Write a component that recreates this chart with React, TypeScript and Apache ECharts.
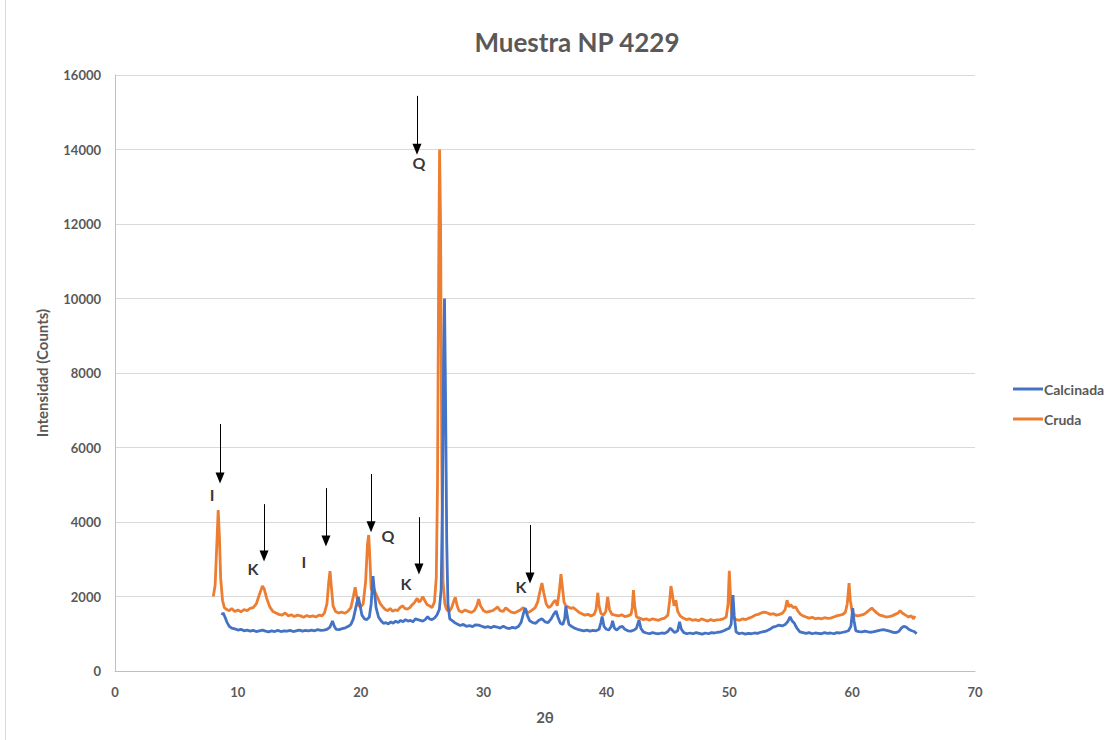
import React, { useEffect, useRef } from "react";
import * as echarts from "echarts";

const title = "Muestra NP 4229";
const xTicks = [0, 10, 20, 30, 40, 50, 60, 70];
const yTicks = [0, 2000, 4000, 6000, 8000, 10000, 12000, 14000, 16000];

// Calcinada: [2θ, counts]
const calcinada: [number, number][] = [
  [8.7, 1500], [8.8, 1560], [8.95, 1450], [9.1, 1320], [9.3, 1200], [9.5, 1150], [9.75, 1130], [10.0, 1100],
  [10.25, 1120], [10.5, 1080], [10.75, 1100], [11.0, 1070], [11.25, 1090], [11.5, 1060], [11.75, 1080], [12.0, 1100],
  [12.25, 1070], [12.5, 1050], [12.75, 1080], [13.0, 1060], [13.25, 1090], [13.5, 1060], [13.75, 1080], [14.0, 1070],
  [14.25, 1090], [14.5, 1060], [14.75, 1080], [15.0, 1100], [15.25, 1070], [15.5, 1090], [15.75, 1080], [16.0, 1100],
  [16.25, 1080], [16.5, 1110], [16.75, 1090], [17.0, 1100], [17.25, 1120], [17.5, 1180], [17.7, 1340], [17.85, 1200],
  [18.0, 1120], [18.25, 1110], [18.5, 1140], [18.75, 1160], [19.0, 1200], [19.2, 1250], [19.4, 1400], [19.6, 1700],
  [19.8, 1990], [19.95, 1750], [20.1, 1500], [20.3, 1400], [20.5, 1380], [20.7, 1450], [20.85, 1800], [21.0, 2550],
  [21.1, 2200], [21.25, 1700], [21.45, 1450], [21.65, 1350], [21.85, 1280], [22.05, 1300], [22.25, 1260], [22.45, 1320],
  [22.65, 1280], [22.85, 1340], [23.05, 1300], [23.25, 1360], [23.45, 1320], [23.65, 1380], [23.85, 1340], [24.05, 1360],
  [24.25, 1320], [24.45, 1400], [24.65, 1380], [24.85, 1360], [25.05, 1340], [25.25, 1380], [25.45, 1460], [25.6, 1400],
  [25.8, 1380], [26.0, 1420], [26.2, 1500], [26.4, 1650], [26.55, 2200], [26.65, 4500], [26.75, 8500], [26.82, 10000],
  [26.9, 7500], [27.0, 3500], [27.1, 1800], [27.25, 1400], [27.45, 1350], [27.65, 1300], [27.85, 1260], [28.1, 1220],
  [28.35, 1250], [28.6, 1200], [28.85, 1220], [29.1, 1190], [29.35, 1240], [29.6, 1230], [29.85, 1200], [30.1, 1170],
  [30.35, 1190], [30.6, 1160], [30.85, 1200], [31.1, 1180], [31.35, 1150], [31.6, 1200], [31.85, 1160], [32.1, 1140],
  [32.35, 1170], [32.6, 1150], [32.85, 1200], [33.05, 1300], [33.25, 1550], [33.4, 1690], [33.55, 1500], [33.75, 1350],
  [34.0, 1300], [34.25, 1280], [34.5, 1360], [34.75, 1400], [35.0, 1320], [35.25, 1300], [35.5, 1400], [35.7, 1520],
  [35.9, 1610], [36.05, 1450], [36.25, 1280], [36.45, 1250], [36.6, 1400], [36.7, 1740], [36.8, 1500], [36.95, 1250],
  [37.15, 1200], [37.4, 1150], [37.65, 1120], [37.9, 1100], [38.15, 1080], [38.4, 1100], [38.65, 1070], [38.9, 1090],
  [39.15, 1080], [39.4, 1120], [39.55, 1300], [39.65, 1460], [39.8, 1200], [40.0, 1120], [40.2, 1100], [40.4, 1200],
  [40.5, 1350], [40.65, 1150], [40.85, 1100], [41.1, 1180], [41.3, 1200], [41.5, 1120], [41.75, 1080], [42.0, 1070],
  [42.25, 1100], [42.45, 1150], [42.65, 1370], [42.8, 1150], [43.0, 1050], [43.25, 1020], [43.5, 1000], [43.75, 1030],
  [44.0, 1010], [44.25, 1000], [44.5, 1020], [44.75, 1010], [45.0, 1060], [45.2, 1150], [45.35, 1100], [45.55, 1030],
  [45.8, 1080], [45.95, 1320], [46.1, 1120], [46.3, 1030], [46.55, 1000], [46.8, 1020], [47.05, 1000], [47.3, 1030],
  [47.55, 1010], [47.8, 990], [48.05, 1020], [48.3, 1000], [48.55, 1030], [48.8, 1020], [49.05, 1040], [49.3, 1050],
  [49.55, 1080], [49.8, 1120], [50.0, 1150], [50.15, 1250], [50.3, 2040], [50.4, 1500], [50.55, 1050], [50.8, 1000],
  [51.05, 1020], [51.3, 990], [51.55, 1010], [51.8, 1000], [52.05, 1020], [52.3, 1010], [52.55, 1040], [52.8, 1060],
  [53.05, 1080], [53.3, 1120], [53.55, 1180], [53.8, 1200], [54.05, 1230], [54.3, 1210], [54.55, 1250], [54.75, 1320],
  [54.95, 1450], [55.1, 1350], [55.3, 1280], [55.5, 1150], [55.75, 1050], [56.0, 1030], [56.25, 1010], [56.5, 1030],
  [56.75, 1000], [57.0, 1020], [57.25, 1010], [57.5, 1000], [57.75, 1030], [58.0, 1010], [58.25, 1020], [58.5, 1000],
  [58.75, 1030], [59.0, 1020], [59.25, 1040], [59.5, 1060], [59.7, 1080], [59.9, 1200], [60.05, 1690], [60.15, 1350],
  [60.3, 1080], [60.55, 1060], [60.8, 1050], [61.05, 1070], [61.3, 1050], [61.55, 1040], [61.8, 1060], [62.05, 1080],
  [62.3, 1100], [62.55, 1110], [62.8, 1090], [63.05, 1070], [63.3, 1040], [63.55, 1030], [63.8, 1060], [64.0, 1150],
  [64.2, 1200], [64.4, 1180], [64.6, 1120], [64.85, 1080], [65.05, 1060], [65.25, 1000],
];

// Cruda: [2θ, counts]
const cruda: [number, number][] = [
  [8.0, 2000], [8.15, 2300], [8.3, 3500], [8.4, 4320], [8.5, 3600], [8.6, 2500], [8.75, 1900], [8.9, 1700],
  [9.1, 1650], [9.3, 1620], [9.5, 1680], [9.75, 1600], [10.0, 1640], [10.25, 1590], [10.5, 1650], [10.75, 1620],
  [11.0, 1680], [11.25, 1700], [11.5, 1800], [11.75, 2050], [12.0, 2280], [12.15, 2200], [12.35, 1950], [12.6, 1720],
  [12.85, 1600], [13.1, 1560], [13.35, 1520], [13.6, 1500], [13.85, 1560], [14.1, 1480], [14.35, 1510], [14.6, 1460],
  [14.85, 1500], [15.1, 1480], [15.35, 1440], [15.6, 1490], [15.85, 1460], [16.1, 1480], [16.35, 1450], [16.6, 1500],
  [16.85, 1480], [17.05, 1560], [17.25, 1800], [17.4, 2400], [17.5, 2680], [17.6, 2300], [17.75, 1750], [17.95, 1600],
  [18.2, 1560], [18.45, 1580], [18.7, 1550], [18.95, 1600], [19.2, 1700], [19.4, 2000], [19.55, 2250], [19.7, 1950],
  [19.85, 1750], [20.0, 1720], [20.2, 1800], [20.4, 2400], [20.55, 3400], [20.65, 3650], [20.75, 3000], [20.85, 2200],
  [20.95, 2150], [21.05, 2220], [21.2, 2100], [21.4, 1950], [21.6, 1800], [21.8, 1720], [22.0, 1650], [22.2, 1620],
  [22.4, 1680], [22.6, 1600], [22.8, 1640], [23.0, 1620], [23.2, 1700], [23.4, 1750], [23.6, 1680], [23.8, 1660],
  [24.0, 1700], [24.2, 1780], [24.4, 1850], [24.6, 1950], [24.75, 1850], [24.9, 1900], [25.05, 2000], [25.2, 1900],
  [25.4, 1780], [25.6, 1750], [25.8, 1700], [26.0, 1850], [26.15, 2500], [26.25, 5000], [26.35, 11000], [26.42, 14000],
  [26.5, 12000], [26.6, 5500], [26.7, 2400], [26.85, 1800], [27.0, 1650], [27.2, 1600], [27.4, 1700], [27.6, 1900],
  [27.7, 1980], [27.85, 1750], [28.0, 1620], [28.25, 1580], [28.5, 1640], [28.75, 1600], [29.0, 1570], [29.25, 1620],
  [29.45, 1750], [29.6, 1930], [29.75, 1750], [30.0, 1620], [30.25, 1580], [30.5, 1600], [30.75, 1620], [31.0, 1680],
  [31.15, 1720], [31.35, 1620], [31.6, 1600], [31.8, 1700], [32.0, 1640], [32.25, 1580], [32.5, 1560], [32.75, 1600],
  [33.0, 1640], [33.2, 1700], [33.4, 1650], [33.6, 1560], [33.8, 1600], [34.0, 1650], [34.2, 1700], [34.4, 1850],
  [34.6, 2150], [34.75, 2360], [34.9, 2100], [35.1, 1800], [35.3, 1700], [35.5, 1750], [35.7, 1850], [35.85, 1900],
  [36.0, 1750], [36.15, 2100], [36.3, 2600], [36.4, 2300], [36.55, 1850], [36.7, 1750], [36.9, 1720], [37.1, 1680],
  [37.3, 1700], [37.5, 1650], [37.75, 1580], [38.0, 1540], [38.25, 1500], [38.5, 1520], [38.75, 1480], [39.0, 1520],
  [39.15, 1650], [39.3, 2100], [39.4, 1750], [39.55, 1550], [39.75, 1500], [39.95, 1600], [40.1, 1990], [40.25, 1650],
  [40.45, 1520], [40.7, 1500], [41.0, 1480], [41.25, 1510], [41.5, 1460], [41.75, 1480], [42.0, 1520], [42.1, 1700],
  [42.2, 2170], [42.3, 1750], [42.45, 1450], [42.7, 1420], [43.0, 1380], [43.25, 1400], [43.5, 1360], [43.75, 1400],
  [44.0, 1380], [44.25, 1360], [44.5, 1400], [44.75, 1420], [45.0, 1500], [45.15, 1900], [45.25, 2280], [45.35, 2100],
  [45.5, 1750], [45.65, 1900], [45.8, 1600], [46.0, 1480], [46.25, 1420], [46.5, 1380], [46.75, 1400], [47.0, 1360],
  [47.25, 1380], [47.5, 1350], [47.75, 1400], [48.0, 1370], [48.25, 1340], [48.5, 1380], [48.75, 1350], [49.0, 1370],
  [49.25, 1380], [49.5, 1400], [49.75, 1450], [49.9, 1800], [50.0, 2690], [50.1, 2000], [50.2, 1500], [50.4, 1400],
  [50.6, 1380], [50.85, 1360], [51.1, 1400], [51.35, 1380], [51.6, 1420], [51.85, 1450], [52.1, 1500], [52.35, 1520],
  [52.6, 1560], [52.85, 1580], [53.1, 1560], [53.35, 1520], [53.6, 1540], [53.85, 1500], [54.1, 1520], [54.35, 1560],
  [54.55, 1650], [54.7, 1900], [54.85, 1720], [55.0, 1780], [55.2, 1700], [55.4, 1720], [55.6, 1600], [55.8, 1520],
  [56.0, 1480], [56.25, 1450], [56.5, 1420], [56.75, 1440], [57.0, 1400], [57.25, 1420], [57.5, 1400], [57.75, 1430],
  [58.0, 1410], [58.25, 1420], [58.5, 1450], [58.75, 1480], [59.0, 1500], [59.25, 1520], [59.45, 1580], [59.6, 1800],
  [59.75, 2360], [59.85, 1900], [60.0, 1600], [60.2, 1500], [60.45, 1480], [60.7, 1500], [60.95, 1520], [61.2, 1580],
  [61.45, 1650], [61.6, 1690], [61.8, 1620], [62.0, 1560], [62.25, 1500], [62.5, 1480], [62.75, 1450], [63.0, 1460],
  [63.25, 1480], [63.5, 1520], [63.75, 1560], [63.9, 1620], [64.1, 1550], [64.35, 1500], [64.6, 1450], [64.8, 1480],
  [65.0, 1400], [65.1, 1480],
];

// Annotation arrows: [2θ, top, tip]
const arrows: [number, number, number][] = [
  [8.55, 6630, 5180],
  [12.13, 4480, 3090],
  [17.17, 4910, 3490],
  [20.84, 5290, 3870],
  [24.74, 4130, 2740],
  [24.58, 15440, 14010],
  [33.78, 3920, 2500],
];
// Annotation letters: [2θ, counts, text]
const letters: [number, number, string][] = [
  [7.9, 4725, "I"],
  [11.23, 2765, "K"],
  [15.38, 2950, "I"],
  [22.22, 3650, "Q"],
  [23.69, 2340, "K"],
  [24.74, 13660, "Q"],
  [33.05, 2280, "K"],
];

const FONT = "Lato, 'Noto Sans', sans-serif";
const GRAY = "#595959";

export default function App() {
  const ref = useRef<HTMLDivElement>(null);
  useEffect(() => {
    if (!ref.current) return;
    const chart = echarts.init(ref.current, undefined, { renderer: "svg" });
    chart.setOption({
      animation: false,
      backgroundColor: "#ffffff",
      textStyle: { fontFamily: FONT },
      title: {
        text: title,
        left: 572,
        textAlign: "center",
        top: 24,
        textStyle: { fontFamily: FONT, fontSize: 26, fontWeight: "bold", color: GRAY },
      },
      legend: {
        data: ["Calcinada", "Cruda"],
        orient: "vertical",
        left: 1008,
        top: 377,
        itemGap: 16,
        itemWidth: 30,
        itemHeight: 3,
        icon: "rect",
        textStyle: { fontFamily: FONT, fontSize: 14, fontWeight: "bold", color: GRAY, padding: [0, 0, 0, -4] },
      },
      grid: { left: 115, right: 145, top: 75, bottom: 69 },
      xAxis: {
        type: "value",
        min: xTicks[0],
        max: xTicks[xTicks.length - 1],
        interval: 10,
        name: "2θ",
        nameLocation: "middle",
        nameGap: 38,
        nameTextStyle: { fontFamily: FONT, fontSize: 15, fontWeight: "bold", color: GRAY },
        axisLine: { show: true, lineStyle: { color: "#bfbfbf", width: 1 } },
        axisTick: { show: false },
        splitLine: { show: false },
        axisLabel: { fontFamily: FONT, fontSize: 13, fontWeight: "bold", color: GRAY, margin: 14, formatter: (v: number) => String(v) },
      },
      yAxis: {
        type: "value",
        min: yTicks[0],
        max: yTicks[yTicks.length - 1],
        interval: 2000,
        name: "Intensidad (Counts)",
        nameLocation: "middle",
        nameGap: 66,
        nameTextStyle: { fontFamily: FONT, fontSize: 15, fontWeight: "bold", color: GRAY },
        axisLine: { show: true, lineStyle: { color: "#bfbfbf", width: 1 } },
        axisTick: { show: false },
        splitLine: { show: true, lineStyle: { color: "#d9d9d9", width: 1 } },
        axisLabel: { fontFamily: FONT, fontSize: 13, fontWeight: "bold", color: GRAY, margin: 14, formatter: (v: number) => String(v) },
      },
      series: [
        {
          name: "Calcinada",
          type: "line",
          data: calcinada,
          symbol: "none",
          z: 3,
          lineStyle: { color: "#4472C4", width: 2.8 },
          itemStyle: { color: "#4472C4" },
        },
        {
          name: "Cruda",
          type: "line",
          data: cruda,
          symbol: "none",
          z: 2,
          lineStyle: { color: "#ED7D31", width: 2.8 },
          itemStyle: { color: "#ED7D31" },
          markLine: {
            silent: true,
            symbol: ["none", "triangle"],
            symbolSize: [9, 11],
            label: { show: false },
            lineStyle: { color: "#000000", width: 1, type: "solid" },
            data: arrows.map(([x, top, tip]) => [
              { coord: [x, top] },
              { coord: [x, tip] },
            ]),
          },
        },
        {
          name: "labels",
          type: "scatter",
          symbolSize: 0,
          silent: true,
          z: 5,
          data: letters.map(([x, y, t]) => ({ value: [x, y], name: t })),
          label: {
            show: true,
            position: "inside",
            formatter: "{b}",
            fontFamily: FONT,
            fontSize: 16,
            fontWeight: "bold",
            color: "#000000",
          },
        },
      ],
      graphic: [
        {
          type: "line",
          shape: { x1: 5.5, y1: 0, x2: 5.5, y2: 740 },
          style: { stroke: "#d9d9d9", lineWidth: 1 },
        },
      ],
    });
    return () => chart.dispose();
  }, []);
  return (
    <div
      ref={ref}
      style={{ position: "absolute", left: 0, top: 0, width: 1120, height: 740 }}
    />
  );
}
